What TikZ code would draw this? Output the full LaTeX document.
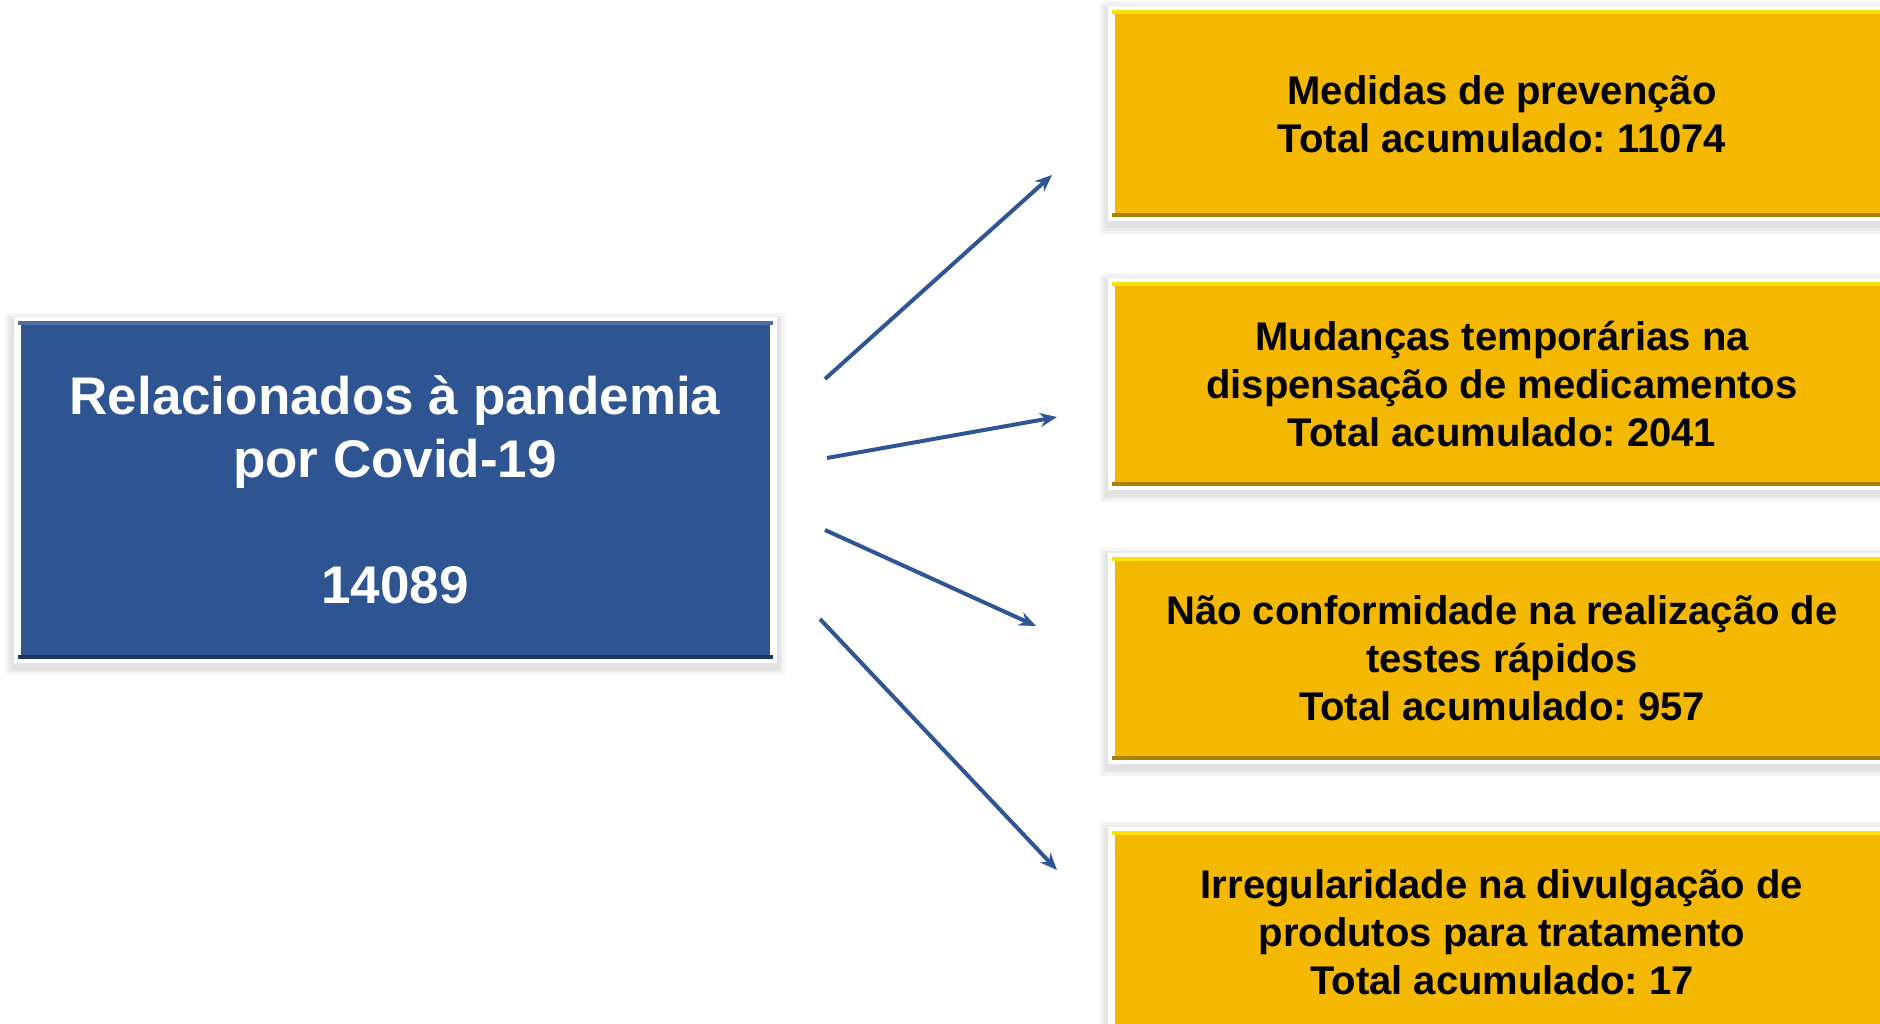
\documentclass[tikz,border=0pt]{standalone}
\usepackage{fontspec}
\setmainfont{Liberation Sans}
\usetikzlibrary{arrows.meta}
\definecolor{bluebox}{HTML}{2E5492}
\definecolor{goldbox}{HTML}{F4B800}
\definecolor{arrowblue}{HTML}{2F5597}
\frenchspacing
\begin{document}
\begin{tikzpicture}[x=1pt,y=-1pt,
  halo/.style={preaction={draw=black, draw opacity=0.04, line width=#1, transform canvas={yshift=-4pt}}},
  base/.style={rectangle, draw=white, line width=7pt, inner sep=0pt, align=center,
    halo=24pt, halo=18pt, halo=13pt},
  bluenode/.style={base, fill=bluebox, text=white, minimum width=756pt, minimum height=338pt,
    font=\fontsize{53}{63}\selectfont\bfseries},
  goldnode/.style={base, fill=goldbox, text=black, minimum width=781pt, minimum height=204pt,
    font=\fontsize{40}{48}\selectfont\bfseries},
  bevel/.style={line width=4pt},
  conn/.style={arrowblue, line width=4pt, -{Stealth[length=17pt,width=14pt]}}]
\useasboundingbox (0,0) rectangle (1880,1024);
\clip (0,0) rectangle (1880,1024);

\node[bluenode] (b) at (395,490) {Relacionados à pandemia\\por Covid-19\\[63pt]14089};
\draw[bevel, bluebox!65!black] ([shift={(4,-6)}]b.south west) -- ([shift={(-4,-6)}]b.south east);
\draw[bevel, bluebox!85!white] ([shift={(4,6)}]b.north west) -- ([shift={(-4,6)}]b.north east);

\node[goldnode, minimum height=208pt] (g1) at (1502,114) {Medidas de prevenção\\Total acumulado: 11074};
\node[goldnode] (g2) at (1502,384) {Mudanças temporárias na\\dispensação de medicamentos\\Total acumulado: 2041};
\node[goldnode] (g3) at (1502,658) {Não conformidade na realização de\\testes rápidos\\Total acumulado: 957};
\node[goldnode] (g4) at (1502,932) {Irregularidade na divulgação de\\produtos para tratamento\\Total acumulado: 17};

\foreach \n in {g1,g2,g3,g4}{
  \draw[bevel, goldbox!70!black] ([shift={(4,-6)}]\n.south west) -- ([shift={(-4,-6)}]\n.south east);
  \draw[bevel, yellow!70!goldbox] ([shift={(4,6)}]\n.north west) -- ([shift={(-4,6)}]\n.north east);
}

\coordinate (s1) at (825,379); \coordinate (e1) at (1052,175);
\coordinate (s2) at (827,458); \coordinate (e2) at (1057,417);
\coordinate (s3) at (825,530); \coordinate (e3) at (1036,626);
\coordinate (s4) at (820,619); \coordinate (e4) at (1057,870);

\draw[conn] (s1) -- (e1);
\draw[conn] (s2) -- (e2);
\draw[conn] (s3) -- (e3);
\draw[conn] (s4) -- (e4);
\end{tikzpicture}
\end{document}
